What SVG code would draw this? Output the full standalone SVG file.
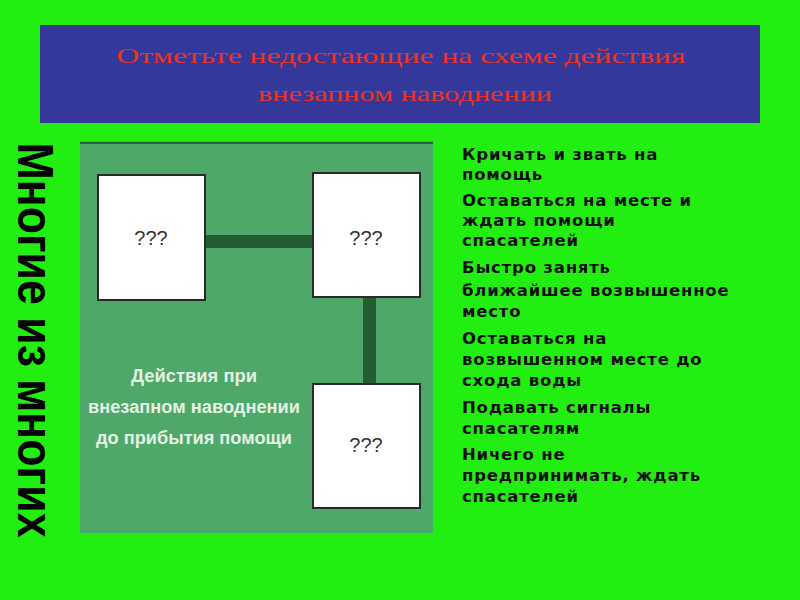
<svg xmlns="http://www.w3.org/2000/svg" width="800" height="600" viewBox="0 0 800 600">
<style>
.box{fill:#fff;stroke:#2a2a2a;stroke-width:2}
.q{font-family:"Liberation Sans",sans-serif;font-size:20px;fill:#333;text-anchor:middle}
.li{font-family:"DejaVu Sans",sans-serif;font-weight:bold;font-size:16.5px;letter-spacing:0.8px;fill:#111}
.cap{font-family:"Liberation Sans",sans-serif;font-weight:bold;font-size:18px;fill:#e4f2e4;text-anchor:middle}
.t{font-family:"Liberation Serif",serif;font-size:22px;fill:#ee3322;text-anchor:middle}
</style>
<rect width="800" height="600" fill="#22ee11"/>
<rect x="40" y="25" width="720" height="98" fill="#33389a"/>
<text class="t" x="401" y="63" textLength="569" lengthAdjust="spacingAndGlyphs">Отметьте недостающие на схеме действия</text>
<text class="t" x="405" y="101" textLength="294" lengthAdjust="spacingAndGlyphs">внезапном наводнении</text>
<text transform="translate(18,340) rotate(90)" text-anchor="middle" font-family="Liberation Sans Narrow,Liberation Sans,sans-serif" font-weight="bold" font-size="50" textLength="395" lengthAdjust="spacingAndGlyphs" fill="#000">Многие из многих</text>
<rect x="80" y="141" width="353" height="392" fill="#4ea86a"/>
<line x1="80" y1="143" x2="433" y2="143" stroke="#1e4a2a" stroke-width="1.5"/>
<g id="connectors">
<rect x="205" y="235" width="108" height="13" fill="#245c34"/>
<rect x="363" y="297" width="13" height="87" fill="#245c34"/>
</g>
<g id="n1"><rect class="box" x="98" y="175" width="107" height="125"/><text class="q" x="151" y="245">???</text></g>
<g id="n2"><rect class="box" x="313" y="173" width="107" height="124"/><text class="q" x="366" y="245">???</text></g>
<g id="n3"><rect class="box" x="313" y="384" width="107" height="124"/><text class="q" x="366" y="452">???</text></g>
<g id="caption">
<text class="cap" x="194" y="382" textLength="126" lengthAdjust="spacingAndGlyphs">Действия при</text>
<text class="cap" x="194" y="413" textLength="212" lengthAdjust="spacingAndGlyphs">внезапном наводнении</text>
<text class="cap" x="194" y="444" textLength="196" lengthAdjust="spacingAndGlyphs">до прибытия помощи</text>
</g>
<g id="list">
<text class="li" x="462" y="160">Кричать и звать на</text>
<text class="li" x="462" y="180">помощь</text>
<text class="li" x="462" y="206">Оставаться на месте и</text>
<text class="li" x="462" y="226">ждать помощи</text>
<text class="li" x="462" y="246">спасателей</text>
<text class="li" x="462" y="273">Быстро занять</text>
<text class="li" x="462" y="296">ближайшее возвышенное</text>
<text class="li" x="462" y="317">место</text>
<text class="li" x="462" y="344">Оставаться на</text>
<text class="li" x="462" y="365">возвышенном месте до</text>
<text class="li" x="462" y="386">схода воды</text>
<text class="li" x="462" y="413">Подавать сигналы</text>
<text class="li" x="462" y="434">спасателям</text>
<text class="li" x="462" y="460">Ничего не</text>
<text class="li" x="462" y="481">предпринимать, ждать</text>
<text class="li" x="462" y="502">спасателей</text>
</g>
</svg>
